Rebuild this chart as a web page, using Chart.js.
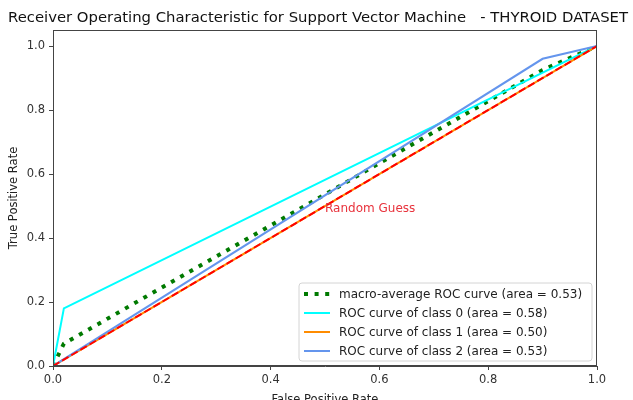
<!DOCTYPE html>
<html>
<head>
<meta charset="utf-8">
<script src="https://cdn.jsdelivr.net/npm/chart.js@4/dist/chart.umd.min.js"></script>
<style>
    html, body { margin: 0; padding: 0; background: #fff; }
    #wrap { width: 633px; height: 400px; }
</style>
</head>
<body>
<div id="wrap"><canvas id="grafico" width="633" height="400"></canvas></div>
<script>
const titulo = "Receiver Operating Characteristic for Support Vector Machine   - THYROID DATASET"

// pontos (fpr, tpr)
const fprMacro = [0, 0.02, 0.9, 1]
const tprMacro = [0, 0.07, 0.925, 1]
const fpr0 = [0, 0.02, 1]
const tpr0 = [0, 0.18, 1]
const fpr1 = [0, 1]
const tpr1 = [0, 1]
const fpr2 = [0, 0.9, 1]
const tpr2 = [0, 0.96, 1]
const fprAcaso = [0, 1]
const tprAcaso = [0, 1]

const rotulos = [
    "macro-average ROC curve (area = 0.53)",
    "ROC curve of class 0 (area = 0.58)",
    "ROC curve of class 1 (area = 0.50)",
    "ROC curve of class 2 (area = 0.53)"
]
const ticksX = [0, 0.2, 0.4, 0.6, 0.8, 1.0]
const ticksY = [0, 0.2, 0.4, 0.6, 0.8, 1.0]

const pontos = (xs, ys) => xs.map((x, i) => ({ x: x, y: ys[i] }))
const fonte = "'DejaVu Sans', sans-serif"

// titulo, moldura dos 4 lados, texto "Random Guess" e legenda dentro do grafico
const extras = {
    id: "extras",
    afterDatasetsDraw(chart) {
        const ctx = chart.ctx
        const ca = chart.chartArea
        const sx = chart.scales.x
        const sy = chart.scales.y
        ctx.save()
        ctx.strokeStyle = "#444"
        ctx.lineWidth = 1
        ctx.strokeRect(ca.left + 0.5, ca.top + 0.5, ca.right - ca.left - 1, ca.bottom - ca.top - 1)

        // titulo ajustado para ocupar ~620px como no original
        ctx.font = "15px " + fonte
        const tam = 15 * 620 / ctx.measureText(titulo).width
        ctx.font = tam.toFixed(2) + "px " + fonte
        ctx.fillStyle = "#111"
        ctx.textAlign = "center"
        ctx.textBaseline = "middle"
        ctx.fillText(titulo, 318, 18)

        ctx.fillStyle = "#e8323c"
        ctx.font = "12px " + fonte
        ctx.textAlign = "left"
        ctx.fillText("Random Guess", sx.getPixelForValue(0.5), sy.getPixelForValue(0.49))

        // legenda
        const w = 293, h = 78
        const lx = ca.right - 5 - w
        const ly = ca.bottom - 5 - h
        ctx.beginPath()
        ctx.roundRect(lx, ly, w, h, 3)
        ctx.fillStyle = "rgba(255,255,255,0.85)"
        ctx.fill()
        ctx.strokeStyle = "#d4d4d4"
        ctx.stroke()
        chart.data.datasets.forEach((ds, i) => {
            if (i >= rotulos.length) return
            const yy = ly + 11 + i * 19
            ctx.beginPath()
            ctx.setLineDash(ds.borderDash || [])
            ctx.lineWidth = ds.borderWidth
            ctx.strokeStyle = ds.borderColor
            ctx.moveTo(lx + 5, yy)
            ctx.lineTo(lx + 31, yy)
            ctx.stroke()
            ctx.setLineDash([])
            ctx.fillStyle = "#222"
            ctx.fillText(ds.label, lx + 40, yy + 0.5)
        })
        ctx.restore()
    }
}

const grafico = document.getElementById("grafico")
new Chart(grafico, {
    type: "line",
    data: {
        datasets: [
            { label: rotulos[0], data: pontos(fprMacro, tprMacro), borderColor: "#007a00", borderWidth: 4, borderDash: [4, 6.6], order: 5 },
            { label: rotulos[1], data: pontos(fpr0, tpr0), borderColor: "#00ffff", borderWidth: 2, order: 4 },
            { label: rotulos[2], data: pontos(fpr1, tpr1), borderColor: "#ff8c00", borderWidth: 2, order: 3 },
            { label: rotulos[3], data: pontos(fpr2, tpr2), borderColor: "#6495ed", borderWidth: 2, order: 2 },
            { label: "Random Guess", data: pontos(fprAcaso, tprAcaso), borderColor: "#ff0000", borderWidth: 2, borderDash: [7.4, 3.2], order: 1 }
        ]
    },
    options: {
        responsive: false,
        animation: false,
        elements: { point: { radius: 0 }, line: { tension: 0, fill: false, borderCapStyle: "butt" } },
        layout: { padding: { left: 0, right: 36, top: 30, bottom: 0 } },
        plugins: {
            legend: { display: false },
            tooltip: { enabled: false },
            title: { display: false }
        },
        scales: {
            x: {
                type: "linear",
                min: 0,
                max: 1,
                afterBuildTicks: (s) => { s.ticks = ticksX.map(v => ({ value: v })) },
                afterFit: (s) => { s.height = 34 },
                ticks: { color: "#333", font: { family: fonte, size: 11.5 }, padding: 3, maxRotation: 0, callback: (v) => v.toFixed(1) },
                grid: { display: true, drawOnChartArea: false, drawTicks: true, tickLength: 4, color: "#444" },
                border: { display: true, color: "#444" },
                title: { display: true, text: "False Positive Rate", color: "#222", font: { family: fonte, size: 11.5 }, padding: { top: 0, bottom: -7 } }
            },
            y: {
                type: "linear",
                min: 0,
                max: 1.05,
                afterBuildTicks: (s) => { s.ticks = ticksY.map(v => ({ value: v })) },
                afterFit: (s) => { s.width = 53 },
                ticks: { color: "#333", font: { family: fonte, size: 11.5 }, padding: 4, callback: (v) => v.toFixed(1) },
                grid: { display: true, drawOnChartArea: false, drawTicks: true, tickLength: 4, color: "#444" },
                border: { display: true, color: "#444" },
                title: { display: true, text: "True Positive Rate", color: "#222", font: { family: fonte, size: 11.5 }, padding: { top: 7, bottom: 0 } }
            }
        }
    },
    plugins: [extras]
})
</script>
</body>
</html>
